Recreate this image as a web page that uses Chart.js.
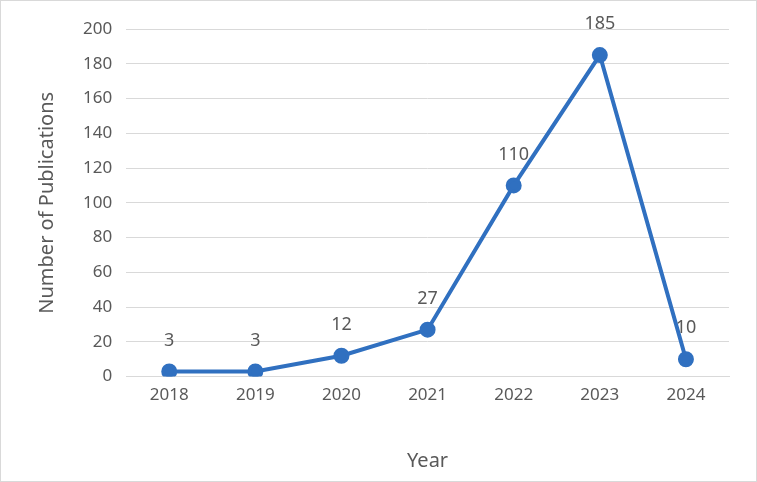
<!DOCTYPE html>
<html>
<head>
<meta charset="utf-8">
<script src="https://cdn.jsdelivr.net/npm/chart.js@4/dist/chart.umd.min.js"></script>
<style>
  body { margin: 0; background: #fff; }
  #wrap { width: 755px; height: 480px; border: 1px solid #d9d9d9; }
</style>
</head>
<body>
<div id="wrap"><canvas id="c" width="755" height="480"></canvas></div>
<script>
'use strict';

const years = ['2018', '2019', '2020', '2021', '2022', '2023', '2024'];
const publications = [3, 3, 12, 27, 110, 185, 10];
const yTicks = [0, 20, 40, 60, 80, 100, 120, 140, 160, 180, 200];

const gray = '#595959';
const blue = '#3070C0';

//draws the value above each point
const pointLabels = {
  id: 'pointLabels',
  afterDatasetsDraw(chart){
    const ctx = chart.ctx;
    const meta = chart.getDatasetMeta(0);
    ctx.save();
    ctx.fillStyle = gray;
    ctx.font = '18px "Noto Sans", sans-serif';
    ctx.textAlign = 'center';
    ctx.textBaseline = 'middle';
    meta.data.forEach(function(pt, i){
      ctx.fillText(String(publications[i]), pt.x, pt.y - 31);
    });
    ctx.restore();
  }
};

new Chart(document.getElementById('c'), {
  type: 'line',
  data: {
    labels: years,
    datasets: [{
      data: publications,
      borderColor: blue,
      backgroundColor: blue,
      borderWidth: 4,
      pointRadius: 6,
      pointBackgroundColor: blue,
      tension: 0
    }]
  },
  options: {
    responsive: false,
    animation: false,
    layout: { padding: { top: 28, right: 27, left: 30, bottom: 4 } },
    plugins: { legend: { display: false }, tooltip: { enabled: false } },
    scales: {
      x: {
        offset: true,
        grid: { display: false, drawTicks: false },
        border: { color: '#d9d9d9', width: 1 },
        ticks: { color: gray, font: { size: 17, family: 'Noto Sans' }, padding: 8 },
        title: { display: true, text: 'Year', color: gray, font: { size: 20, family: 'Noto Sans' }, padding: { top: 36 } }
      },
      y: {
        min: 0,
        max: 200,
        afterBuildTicks(axis){ axis.ticks = yTicks.map(v => ({ value: v })); },
        grid: { color: '#d9d9d9', drawTicks: false },
        border: { display: false },
        ticks: { color: gray, font: { size: 17, family: 'Noto Sans' }, padding: 14 },
        title: { display: true, text: 'Number of Publications', color: gray, font: { size: 20, family: 'Noto Sans' }, padding: { bottom: 10 } }
      }
    }
  },
  plugins: [pointLabels]
});
</script>
</body>
</html>
